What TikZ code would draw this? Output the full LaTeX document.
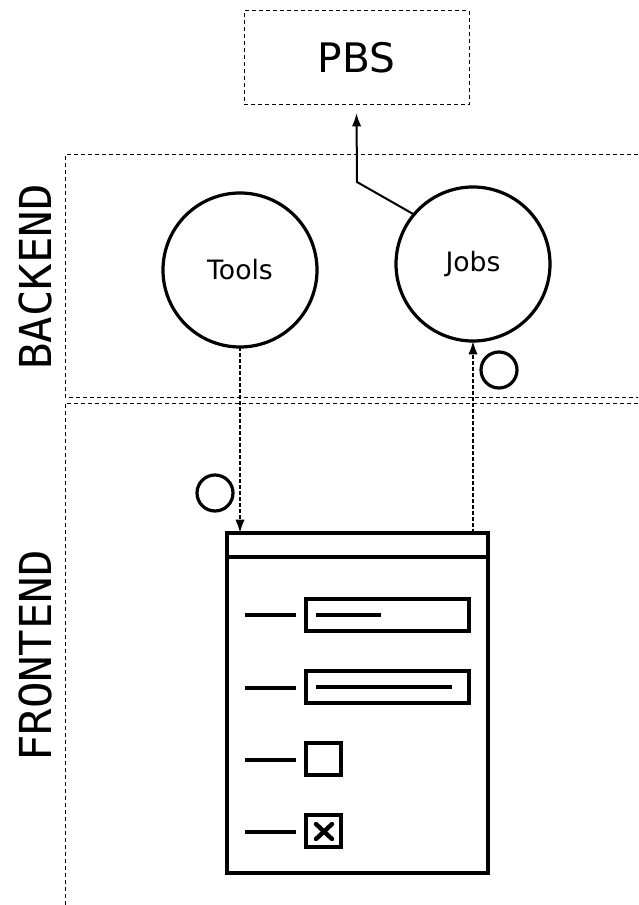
\documentclass[tikz,border=0pt]{standalone}
\usepackage{fontspec}
\setmainfont{DejaVu Sans}
\newfontfamily\labelfont{DejaVu Sans Mono}
\usetikzlibrary{arrows.meta}

\begin{document}
\begin{tikzpicture}[
  x=0.75pt, y=-0.75pt,
  every node/.style={inner sep=0pt, outer sep=0pt},
  service/.style={draw, circle, line width=2.4pt, minimum size=115.5pt, font=\fontsize{20}{24}\selectfont},
  queue box/.style={draw, dashed, dash pattern=on 3pt off 2.25pt, line width=0.75pt, minimum width=168.75pt, minimum height=70.5pt, font=\fontsize{30.5}{36}\selectfont},
  region/.style={draw, dash pattern=on 3pt off 2.25pt, line width=0.75pt},
  side label/.style={rotate=90, font=\labelfont\fontsize{33}{40}\selectfont},
  marker/.style={draw, circle, line width=2.4pt, minimum size=27pt},
  submit edge/.style={draw, line width=1.5pt, -{Latex[length=10pt,width=7pt]}},
  call edge/.style={draw, line width=1.5pt, dash pattern=on 3pt off 1.5pt, -{Latex[length=10pt,width=7pt]}},
  widget/.style={draw, line width=3.3pt}
]
\useasboundingbox (0,0) rectangle (638,905);
% Define the regions
\path[region] (638,155) -- (65,155) -- (65,397) -- (638,397);
\path[region] (638,403) -- (65,403) -- (65,905);
\node[side label] (backend) at (35,277) {BACKEND};
\node[side label] (frontend) at (35,656) {FRONTEND};
% Define the nodes
\node[queue box] (pbs) at (356.5,58) {PBS};
\node[service] (tools) at (240,270) {Tools};
\node[service] (jobs) at (473,264) {Jobs};
\node[marker] (m1) at (499,370) {};
\node[marker] (m2) at (215,493) {};
\node[draw, line width=3.3pt, minimum width=195.75pt, minimum height=255pt] (form) at (357.5,703) {};
\coordinate (bend) at (357,182);
% Define the edges
\path[submit edge] (jobs.140) -- (bend) -- ([yshift=-6pt]pbs.south);
\path[call edge] (tools.south) -- (tools.south |- form.north);
\path[call edge] (form.north -| jobs.south) -- (jobs.south);
% Define the form widgets
\draw[widget] (form.west |- 0,557) -- (form.east |- 0,557);
\draw[widget] (245,615) -- (296,615);
\draw[widget] (306,599) rectangle (469,631);
\draw[widget] (316,615) -- (381,615);
\draw[widget] (245,688) -- (296,688);
\draw[widget] (306,671) rectangle (469,703);
\draw[widget] (316,687) -- (452,687);
\draw[widget] (245,760) -- (296,760);
\draw[widget] (306,743) rectangle (341,775);
\draw[widget] (245,832) -- (296,832);
\draw[widget] (306,815) rectangle (341,847);
\draw[widget, line cap=round] (316,824) -- (332,839) (316,839) -- (332,824);
\end{tikzpicture}
\end{document}
